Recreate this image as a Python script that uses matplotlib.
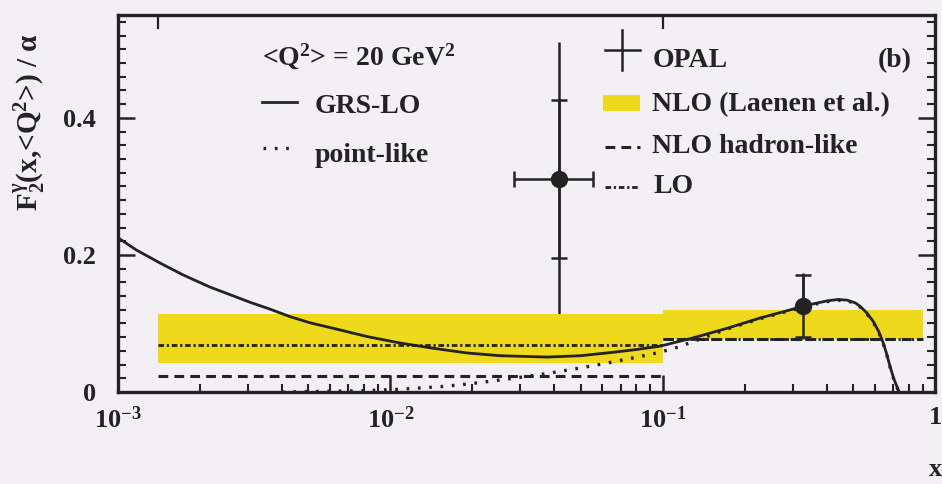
import matplotlib
matplotlib.use("Agg")
import matplotlib.pyplot as plt
from matplotlib.lines import Line2D
from matplotlib.patches import Rectangle
from matplotlib.ticker import FixedLocator, MultipleLocator, NullFormatter, FixedFormatter, LogLocator

plt.rcParams.update({
    'font.family': ['Liberation Serif', 'DejaVu Serif'],
    'font.weight': 'bold',
    'axes.labelweight': 'bold',
    'mathtext.fontset': 'custom',
    'mathtext.rm': 'Liberation Serif:bold',
    'mathtext.it': 'Liberation Serif:bold',
    'mathtext.bf': 'Liberation Serif:bold',
    'mathtext.default': 'rm',
})

# GRS-LO prediction
grs_x = [0.001, 0.00117, 0.00143, 0.00173, 0.00218, 0.00258, 0.00305, 0.00361,
         0.00428, 0.00507, 0.00617, 0.0082, 0.01086, 0.0143, 0.0191, 0.0253,
         0.0376, 0.05, 0.0658, 0.08, 0.098, 0.1294, 0.1725, 0.228, 0.301, 0.36,
         0.402, 0.44, 0.476, 0.51, 0.531, 0.56, 0.593, 0.62, 0.645, 0.665,
         0.684, 0.705, 0.726, 0.738]
grs_y = [0.225, 0.207, 0.188, 0.171, 0.153, 0.142, 0.131, 0.121,
         0.110, 0.101, 0.093, 0.081, 0.0715, 0.064, 0.057, 0.053,
         0.051, 0.053, 0.058, 0.062, 0.067, 0.079, 0.093, 0.108, 0.121, 0.129,
         0.133, 0.135, 0.134, 0.130, 0.125, 0.116, 0.103, 0.089, 0.072, 0.055,
         0.037, 0.020, 0.007, 0.0]

# point-like contribution
pl_x = [0.004, 0.008, 0.0108, 0.0155, 0.0196, 0.0282, 0.0376, 0.0497, 0.0658,
        0.0877, 0.0977, 0.115, 0.13, 0.15, 0.1725, 0.228, 0.301, 0.36, 0.402,
        0.44, 0.476, 0.51, 0.531, 0.56, 0.593, 0.62, 0.645, 0.665, 0.684,
        0.705, 0.726, 0.738]
pl_y = [0.0, 0.002, 0.004, 0.008, 0.012, 0.020, 0.027, 0.035, 0.044,
        0.054, 0.058, 0.066, 0.074, 0.083, 0.092, 0.107, 0.120, 0.128, 0.132,
        0.134, 0.133, 0.129, 0.124, 0.115, 0.102, 0.088, 0.071, 0.054, 0.036,
        0.019, 0.006, 0.0]

# NLO (Laenen et al.) bins
nlo_edges = [0.0014, 0.1, 0.9]
nlo_low = [0.042, 0.077]
nlo_high = [0.114, 0.120]
nlo_hadron = [0.023, 0.078]
lo_vals = [0.068, 0.078]

# OPAL measurement
opal_x = [0.0417, 0.328]
opal_y = [0.311, 0.126]
opal_x_lo = [0.0284, 0.328]
opal_x_hi = [0.0554, 0.328]
opal_stat = [0.115, 0.045]
opal_tot = [0.200, 0.048]

bg = '#f2f0f5'
ink = '#232323'
yellow = '#eed91c'

fig = plt.figure(figsize=(9.42, 4.84), dpi=100, facecolor=bg)
ax = fig.add_axes([0.1253, 0.19, 0.8673, 0.779], facecolor=bg)
ax.set_xscale('log')
ax.set_xlim(1e-3, 1)
ax.set_ylim(0, 0.55)

# NLO band and lines
ax.stairs(nlo_high, nlo_edges, baseline=nlo_low, fill=True, color=yellow,
          zorder=2, linewidth=0)
ax.hlines(nlo_hadron, nlo_edges[:-1], nlo_edges[1:], colors=ink,
          linewidth=2.2, linestyles=(0, (3.2, 2.0)), zorder=3)
ax.hlines(lo_vals, nlo_edges[:-1], nlo_edges[1:], colors=ink,
          linewidth=2.0, linestyles=(0, (2.0, 1.0, 0.8, 1.0)), zorder=3)

# GRS curves
ax.plot(grs_x, grs_y, color=ink, linewidth=2.0, zorder=4,
        solid_joinstyle='round')
ax.plot(pl_x, pl_y, color=ink, linewidth=2.4, linestyle=(0, (0.8, 2.6)),
        zorder=4)

# OPAL points: total error, then statistical error with ticks
xerr = [[x - lo for x, lo in zip(opal_x, opal_x_lo)],
        [hi - x for x, hi in zip(opal_x, opal_x_hi)]]
ax.errorbar(opal_x, opal_y, yerr=opal_tot, fmt='none', ecolor=ink,
            elinewidth=1.8, capsize=0, zorder=1)
ax.errorbar(opal_x, opal_y, yerr=opal_stat, xerr=xerr, fmt='o', color=ink,
            markersize=11.5, elinewidth=1.8, capsize=6, capthick=1.8, zorder=5)

# bin edge marks along the top frame
for e in nlo_edges[:2]:
    ax.axvline(e, ymin=0.965, ymax=1.0, color=ink, linewidth=1.6)

# axes styling
for s in ax.spines.values():
    s.set_linewidth(2.4)
    s.set_color(ink)
ax.yaxis.set_major_locator(FixedLocator([0, 0.2, 0.4]))
ax.yaxis.set_major_formatter(FixedFormatter(['0', '0.2', '0.4']))
ax.yaxis.set_minor_locator(MultipleLocator(0.02))
ax.xaxis.set_major_locator(FixedLocator([1e-3, 1e-2, 1e-1, 1]))
ax.xaxis.set_major_formatter(FixedFormatter([r'10$^{-3}$', r'10$^{-2}$', r'10$^{-1}$', '1']))
ax.xaxis.set_minor_locator(LogLocator(base=10, subs=range(2, 10), numticks=20))
ax.xaxis.set_minor_formatter(NullFormatter())
ax.tick_params(axis='both', which='both', direction='in', colors=ink)
ax.tick_params(axis='y', which='both', left=True, right=True)
ax.tick_params(axis='x', which='both', top=False)
ax.tick_params(axis='both', which='major', length=12, width=1.8, labelsize=19)
ax.tick_params(axis='both', which='minor', length=5.5, width=1.5)
ax.tick_params(axis='y', which='major', pad=16)
ax.tick_params(axis='x', which='major', pad=10)

ax.set_ylabel(r'F$_2^{\gamma}$(x,<Q$^2$>) / α', fontsize=21, color=ink,
              fontweight='bold')
ax.yaxis.set_label_coords(-0.087, 0.716)
ax.set_xlabel('x', fontsize=19, color=ink, fontweight='bold')
ax.xaxis.set_label_coords(1.0, -0.175)

# legend, left block
T = ax.transAxes
fs = 20
ax.text(0.176, 0.866, r'<Q$^2$> = 20 GeV$^2$', transform=T, fontsize=fs,
        color=ink, va='baseline')
ax.add_line(Line2D([0.176, 0.219], [0.769, 0.769], transform=T, color=ink,
                   linewidth=2.0))
ax.text(0.241, 0.740, 'GRS-LO', transform=T, fontsize=fs, color=ink,
        va='baseline')
ax.add_line(Line2D([0.177, 0.217], [0.647, 0.647], transform=T, color=ink,
                   linewidth=2.4, linestyle=(0, (0.8, 2.6))))
ax.text(0.241, 0.610, 'point-like', transform=T, fontsize=fs, color=ink,
        va='baseline')

# legend, right block
ax.add_line(Line2D([0.596, 0.639], [0.907, 0.907], transform=T, color=ink,
                   linewidth=1.8))
ax.add_line(Line2D([0.617, 0.617], [0.853, 0.960], transform=T, color=ink,
                   linewidth=1.8))
ax.text(0.654, 0.862, 'OPAL', transform=T, fontsize=fs, color=ink,
        va='baseline')
ax.text(0.930, 0.862, '(b)', transform=T, fontsize=fs, color=ink,
        va='baseline')
ax.add_patch(Rectangle((0.594, 0.745), 0.045, 0.043, transform=T,
                       facecolor=yellow, edgecolor='none'))
ax.text(0.654, 0.745, 'NLO (Laenen et al.)', transform=T, fontsize=fs,
        color=ink, va='baseline')
ax.add_line(Line2D([0.596, 0.639], [0.650, 0.650], transform=T, color=ink,
                   linewidth=2.2, linestyle=(0, (3.2, 2.0))))
ax.text(0.654, 0.634, 'NLO hadron-like', transform=T, fontsize=fs,
        color=ink, va='baseline')
ax.add_line(Line2D([0.596, 0.639], [0.544, 0.544], transform=T, color=ink,
                   linewidth=2.0, linestyle=(0, (2.0, 1.0, 0.8, 1.0))))
ax.text(0.656, 0.528, 'LO', transform=T, fontsize=fs, color=ink,
        va='baseline')

fig.savefig('out.png', dpi=100, facecolor=bg)
